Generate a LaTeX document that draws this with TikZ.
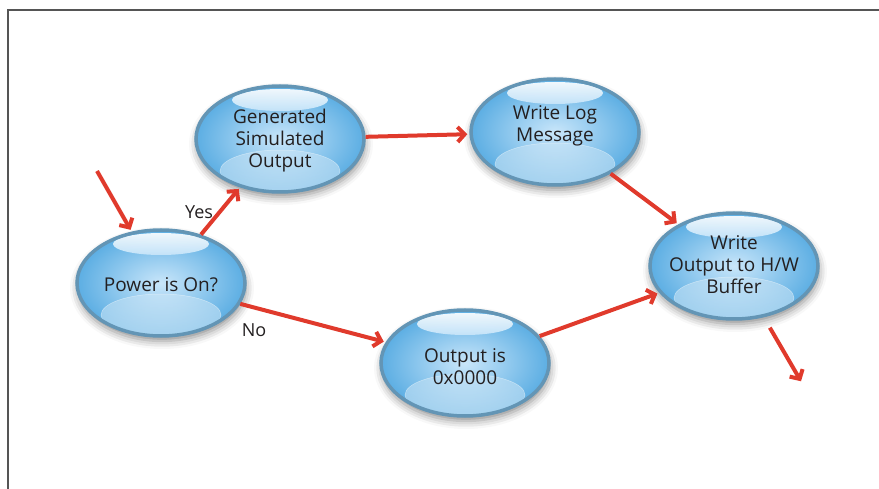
\documentclass[tikz,border=0pt]{standalone}
\usepackage{fontspec}
\setmainfont{Open Sans}
\usetikzlibrary{shapes.geometric,arrows.meta,shadows.blur}
\definecolor{rimblue}{HTML}{6395B5}
\definecolor{innerblue}{HTML}{C9E6FA}
\definecolor{outerblue}{HTML}{5CAEE3}
\definecolor{flowred}{HTML}{E03A2C}
\definecolor{inkgray}{HTML}{231F20}
\definecolor{framegray}{HTML}{555555}

\begin{document}
\begin{tikzpicture}
        [x=1pt,y=-1pt,
         bubble/.style={ellipse,minimum width=168pt,minimum height=106pt,inner sep=0pt,
           draw=rimblue,line width=3.5pt,inner color=innerblue,outer color=outerblue,
           blur shadow={shadow xshift=1pt,shadow yshift=-5pt,shadow blur radius=8pt,shadow opacity=45},
           path picture={
             \shade[top color=outerblue!70,bottom color=white,opacity=0.45] ([yshift=-32pt]path picture bounding box.center) ellipse [x radius=60pt,y radius=21pt];
             \draw[white,opacity=0.45,line width=0.5pt] ([yshift=-32pt]path picture bounding box.center) ellipse [x radius=60pt,y radius=21pt];
             \shade[top color=white,bottom color=innerblue,opacity=0.9] ([yshift=39pt]path picture bounding box.center) ellipse [x radius=48pt,y radius=11pt];
           }},
         txt/.style={align=center,text=inkgray,inner sep=0pt,font=\fontsize{19}{22}\selectfont},
         flow/.style={draw=flowred,line width=4pt,shorten >=2pt,-{Straight Barb[length=7pt,width=15pt]}},
         lbl/.style={text=inkgray,font=\fontsize{18}{20}\selectfont}]
        \useasboundingbox (0,0) rectangle (879,489);
        \draw[framegray,line width=1.5pt] (8,489) -- (8,10) -- (879,10);

        \node[bubble] (power) at (161,283) {};
        \node[bubble] (gen) at (280,139) {};
        \node[bubble] (log) at (555,132) {};
        \node[bubble] (zero) at (465,363) {};
        \node[bubble] (out) at (734,266) {};

        \node[txt] (powertxt) at (161,285) {Power is On?};
        \node[txt] (gentxt) at (280,141) {Generated\\Simulated\\Output};
        \node[txt] (logtxt) at (555,126) {Write Log\\Message};
        \node[txt] (zerotxt) at (465,367) {Output is\\0x0000};
        \node[txt] (outtxt) at (734,265) {Write\\Output to H/W\\Buffer};

        \coordinate (in) at (97,171);
        \coordinate (exit) at (802,383);

        \draw[flow] (in) -- (power);
        \draw[flow] (power) -- (gen);
        \draw[flow] (gen) -- (log);
        \draw[flow] (log) -- (out);
        \draw[flow] (power) -- (zero);
        \draw[flow] (zero) -- (out);
        \draw[flow,shorten <=12pt] (out) -- (exit);

        \node[lbl] (yes) at (199,212) {Yes};
        \node[lbl] (no) at (254,330) {No};
      \end{tikzpicture}
\end{document}
